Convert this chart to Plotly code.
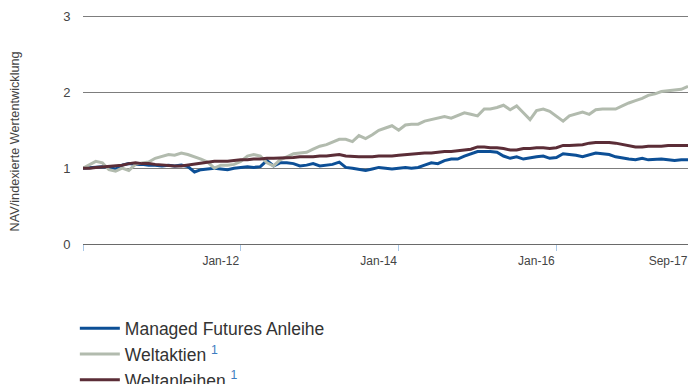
import pandas as pd
import plotly.graph_objects as go

# Monthly observations, Jan 2010 - Sep 2017 (indexed, start = 1)
dates = pd.date_range("2010-01-01", periods=93, freq="MS")

managed_futures = [
    1.00, 1.01, 1.01, 1.02, 1.01, 0.99, 1.04, 1.06, 1.05, 1.05, 1.04, 1.04,
    1.03, 1.04, 1.03, 1.04, 1.02, 0.95, 0.98, 0.99, 1.00, 0.99, 0.98, 1.00,
    1.01, 1.02, 1.01, 1.02, 1.10, 1.03, 1.07, 1.07, 1.06, 1.03, 1.04, 1.06,
    1.03, 1.04, 1.05, 1.08, 1.01, 1.00, 0.99, 0.97, 0.99, 1.01, 1.00, 0.99,
    1.00, 1.01, 1.00, 1.01, 1.04, 1.07, 1.06, 1.10, 1.12, 1.12, 1.16, 1.19,
    1.22, 1.22, 1.22, 1.21, 1.16, 1.13, 1.15, 1.12, 1.14, 1.15, 1.16, 1.13,
    1.14, 1.19, 1.18, 1.17, 1.15, 1.18, 1.20, 1.19, 1.18, 1.15, 1.13, 1.12,
    1.11, 1.13, 1.11, 1.12, 1.12, 1.11, 1.10, 1.11, 1.11,
]

weltaktien = [
    1.00, 1.05, 1.09, 1.07, 0.98, 0.96, 1.00, 0.97, 1.05, 1.07, 1.08, 1.13,
    1.16, 1.18, 1.17, 1.20, 1.18, 1.15, 1.12, 1.08, 1.00, 1.04, 1.04, 1.05,
    1.09, 1.16, 1.18, 1.16, 1.07, 1.03, 1.11, 1.15, 1.19, 1.20, 1.21, 1.25,
    1.29, 1.31, 1.34, 1.38, 1.38, 1.35, 1.43, 1.39, 1.44, 1.50, 1.53, 1.56,
    1.50, 1.57, 1.58, 1.58, 1.62, 1.64, 1.65, 1.68, 1.66, 1.69, 1.73, 1.71,
    1.69, 1.78, 1.78, 1.80, 1.83, 1.77, 1.82, 1.73, 1.64, 1.76, 1.78, 1.75,
    1.68, 1.62, 1.69, 1.72, 1.74, 1.71, 1.77, 1.78, 1.78, 1.78, 1.82, 1.86,
    1.89, 1.92, 1.96, 1.98, 2.01, 2.02, 2.03, 2.04, 2.08,
]

weltanleihen = [
    1.00, 1.00, 1.01, 1.02, 1.02, 1.03, 1.04, 1.06, 1.07, 1.06, 1.06, 1.05,
    1.04, 1.03, 1.03, 1.03, 1.04, 1.06, 1.07, 1.08, 1.09, 1.09, 1.09, 1.10,
    1.11, 1.11, 1.12, 1.12, 1.13, 1.13, 1.13, 1.14, 1.14, 1.15, 1.15, 1.15,
    1.16, 1.16, 1.17, 1.18, 1.16, 1.15, 1.15, 1.15, 1.15, 1.16, 1.16, 1.16,
    1.17, 1.18, 1.18, 1.19, 1.20, 1.20, 1.21, 1.22, 1.22, 1.23, 1.24, 1.25,
    1.28, 1.28, 1.27, 1.27, 1.26, 1.24, 1.24, 1.26, 1.26, 1.27, 1.27, 1.26,
    1.27, 1.30, 1.30, 1.30, 1.31, 1.33, 1.34, 1.34, 1.34, 1.33, 1.31, 1.29,
    1.28, 1.28, 1.29, 1.29, 1.29, 1.30, 1.30, 1.30, 1.30,
]

# Tick marks sit on these dates; labels are shifted left of their marks
tick_dates = ["2010-01-01", "2012-01-01", "2014-01-01", "2016-01-01", "2017-09-01"]
tick_text = ["", "Jan-12", "Jan-14", "Jan-16", "Sep-17"]
y_ticks = [0, 1, 2, 3]

SUP = "<span style='color:#3d7cc0'><sup>1</sup></span>"
FONT = "Liberation Sans, Arial, sans-serif"

fig = go.Figure()
fig.add_trace(go.Scatter(x=dates, y=managed_futures, mode="lines",
                         name="Managed Futures Anleihe",
                         line=dict(color="#0c4f96", width=3)))
fig.add_trace(go.Scatter(x=dates, y=weltaktien, mode="lines",
                         name="Weltaktien " + SUP,
                         line=dict(color="#b2bbae", width=3)))
fig.add_trace(go.Scatter(x=dates, y=weltanleihen, mode="lines",
                         name="Weltanleihen " + SUP,
                         line=dict(color="#5b2d37", width=3)))

fig.update_layout(
    width=688, height=384,
    margin=dict(l=83, r=0, t=15, b=140, autoexpand=False),
    paper_bgcolor="white", plot_bgcolor="white",
    font=dict(family=FONT, color="#444444", size=12),
    showlegend=True,
    legend=dict(
        x=-0.0135, xanchor="left", y=-0.29, yanchor="top",
        font=dict(size=17.5, color="#333333", family=FONT),
        bgcolor="rgba(0,0,0,0)", tracegroupgap=0,
        itemwidth=40,
    ),
    xaxis=dict(
        type="date",
        range=["2010-01-01", "2017-09-01"],
        tickvals=tick_dates, ticktext=tick_text,
        ticks="outside", ticklen=6, tickwidth=1, tickcolor="#a9c8e8",
        ticklabelshift=-20,
        showgrid=False, zeroline=False,
        showline=True, linecolor="#6a6a6a", linewidth=1,
        tickfont=dict(size=12, color="#444444"),
    ),
    yaxis=dict(
        range=[0, 3.02],
        tickvals=y_ticks,
        ticks="outside", ticklen=9, tickcolor="rgba(0,0,0,0)",
        showgrid=True, gridcolor="#7d7d7d", gridwidth=1,
        zeroline=False, showline=False,
        tickfont=dict(size=13, color="#444444"),
    ),
    annotations=[dict(
        text="NAV/indexierte Wertentwicklung",
        xref="paper", yref="paper", x=-0.112, y=0.449,
        xanchor="center", yanchor="middle", textangle=-90,
        showarrow=False, font=dict(size=12.7, color="#444444", family=FONT),
    )],
)

fig.write_html("out.html")
